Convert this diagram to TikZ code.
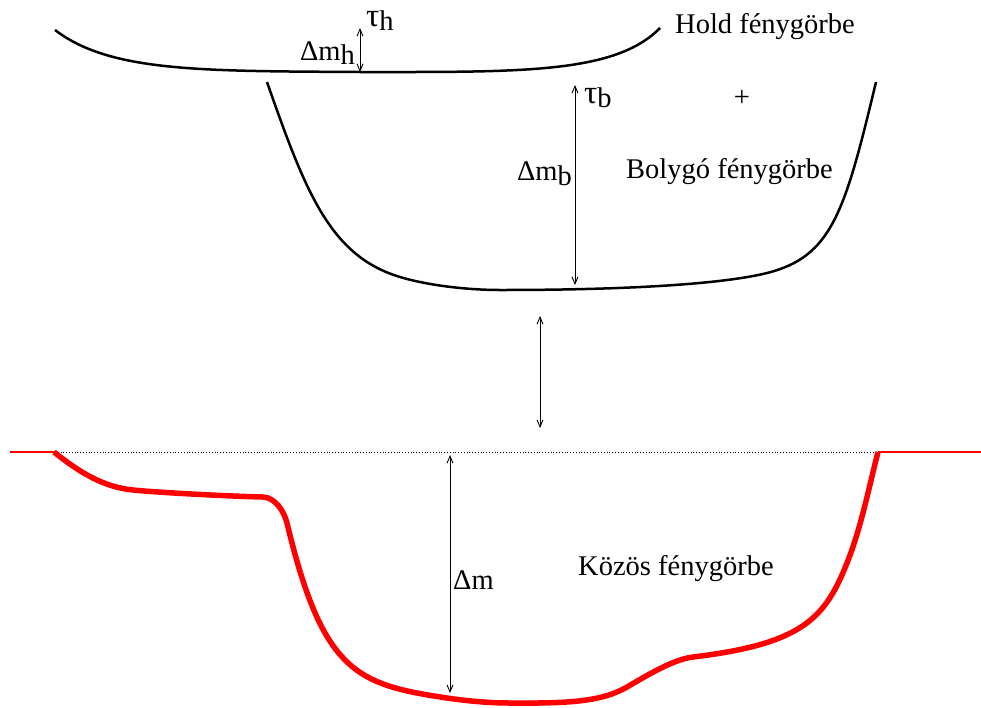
\documentclass[tikz,border=0pt]{standalone}
\usepackage{fontspec}
\setmainfont{Liberation Serif}
\usetikzlibrary{arrows.meta}
\tikzset{
  lbl/.style={font=\fontsize{28.5}{31}\selectfont, inner sep=0pt},
  curve/.style={line width=2.5pt, black},
  joint/.style={line width=5.5pt, red, line join=round},
  meas/.style={line width=0.9pt, {Straight Barb[length=7pt,width=6pt]}-{Straight Barb[length=7pt,width=6pt]}}
}
\newcommand{\lowsub}[1]{\raisebox{-0.35ex}{#1}}
\newcommand{\tauglyph}{{\fontsize{33}{33}\selectfont τ}}
\begin{document}
\begin{tikzpicture}[x=1pt,y=-1pt]
\useasboundingbox (0,0) rectangle (981,707);

% moon light curve
\draw[curve] (55,30) .. controls (110,72) and (200,71) .. (360,72)
  .. controls (520,72) and (615,74) .. (660,28);

% planet light curve
\draw[curve] (267,82) .. controls (305.5,192) and (330,256) .. (400,277)
  .. controls (430,286) and (470,290) .. (500,290)
  .. controls (640,290) and (727,283) .. (767,273)
  .. controls (832,256.75) and (844.8,212) .. (876,82);

% combined light curve
\draw[red, line width=1.2pt] (10,452) -- (55,452);
\draw[red, line width=1.2pt] (878,452) -- (981,452);
\draw[dotted, line width=0.8pt] (55,452) -- (878,452);
\draw[joint] (54,452) .. controls (79,472) and (103,487) .. (133,490)
  .. controls (163,493) and (240,496.6) .. (263,497)
  .. controls (275,497.4) and (284,511) .. (287,523)
  .. controls (323,673) and (357,684.5) .. (447,698)
  .. controls (467,701) and (490,703) .. (510,703)
  .. controls (570,703.5) and (602,701.5) .. (627,687)
  .. controls (647,675.4) and (673,659.4) .. (693,657)
  .. controls (803,643.8) and (825,618) .. (847,563)
  .. controls (861,528) and (869,487) .. (878,452);

% measurement arrows
\coordinate (th1) at (360,28);  \coordinate (th2) at (360,72);
\coordinate (tb1) at (575,85);  \coordinate (tb2) at (575,285);
\coordinate (gap1) at (540,316); \coordinate (gap2) at (540,428);
\coordinate (dm1) at (450,455); \coordinate (dm2) at (450,693);
\draw[meas] (th1) -- (th2);
\draw[meas] (tb1) -- (tb2);
\draw[meas] (gap1) -- (gap2);
\draw[meas] (dm1) -- (dm2);

% labels
\node[lbl, anchor=west] (tauh) at (366,21) {\tauglyph\lowsub{h}};
\node[lbl, anchor=east] (dmh) at (355,53) {Δm\lowsub{h}};
\node[lbl, anchor=west] (hold) at (675,27) {Hold fénygörbe};
\node[lbl] (plus) at (742,98) {+};
\node[lbl, anchor=west] (taub) at (584,98) {\tauglyph\lowsub{b}};
\node[lbl, anchor=east] (dmb) at (572,174) {Δm\lowsub{b}};
\node[lbl, anchor=west] (boly) at (626,172) {Bolygó fénygörbe};
\node[lbl, anchor=west] (dm) at (453,580) {Δm};
\node[lbl, anchor=west] (kozos) at (578,569) {Közös fénygörbe};
\end{tikzpicture}
\end{document}
